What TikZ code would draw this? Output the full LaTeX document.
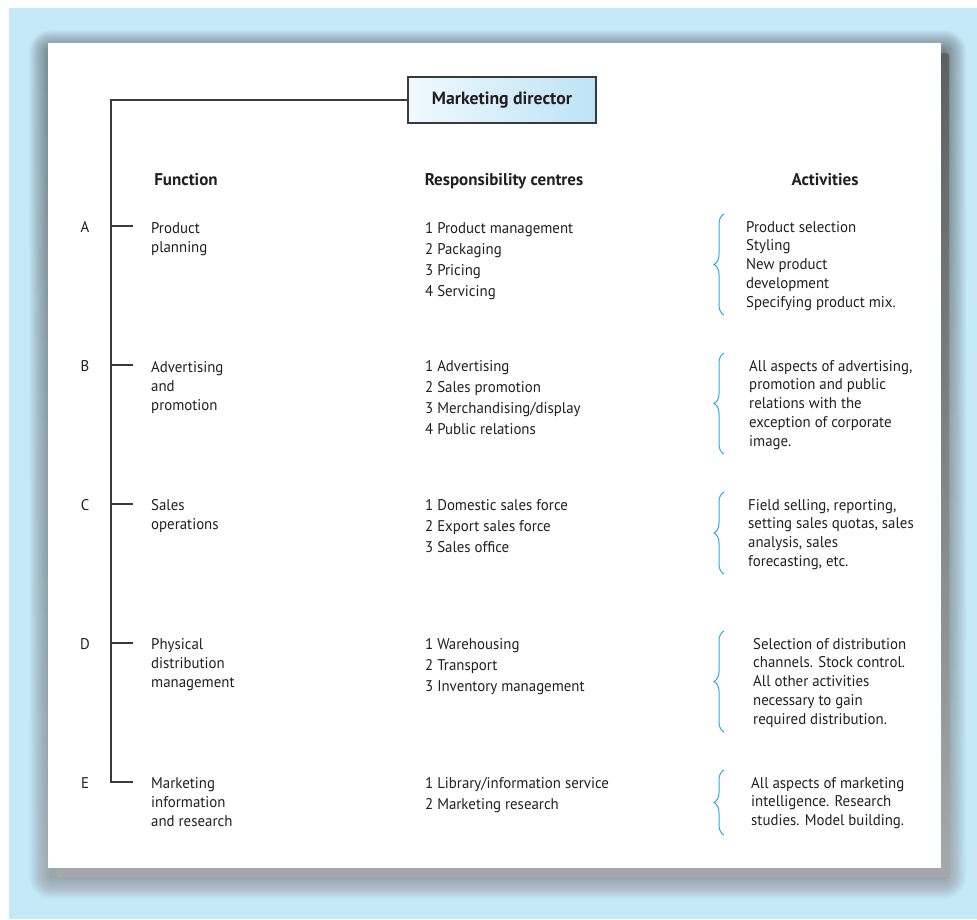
\documentclass[tikz,border=0pt]{standalone}
\usepackage{fontspec}
\setmainfont{PT Sans}
\newfontfamily\bodyfont{PT Sans}[FakeStretch=0.96]
\usetikzlibrary{decorations.pathreplacing,shadings}

\definecolor{bgblue}{HTML}{C6E9F8}
\definecolor{shade}{HTML}{3F5F70}
\definecolor{ink}{HTML}{231F20}
\definecolor{bracecol}{HTML}{29ABE2}
\definecolor{boxl}{HTML}{F0F9FE}
\definecolor{boxr}{HTML}{BDE3F6}
\definecolor{linecol}{HTML}{3A3A3A}

\tikzset{
  conn/.style={draw=linecol, line width=1.2pt},
  letter/.style={anchor=base, inner sep=0pt, text=ink, font=\bodyfont\fontsize{15.5}{19}\selectfont},
  heading/.style={anchor=base, inner sep=0pt, text=ink, font=\bfseries\fontsize{17}{20}\selectfont},
  % multi-line texts are placed by the baseline of their last line
  functxt/.style={anchor=base west, inner sep=0pt, align=left, text=ink, font=\bodyfont\fontsize{15.5}{19}\selectfont},
  resptxt/.style={anchor=base west, inner sep=0pt, align=left, text=ink, font=\bodyfont\fontsize{15.5}{21.3}\selectfont},
  acttxt/.style={anchor=base west, inner sep=0pt, align=left, text=ink, font=\bodyfont\fontsize{15.5}{18.8}\selectfont},
  actbrace/.style={draw=bracecol, line width=1pt, decorate, decoration={brace, amplitude=10pt}},
  topbox/.style={draw=linecol, line width=1.2pt, left color=boxl, right color=boxr,
    minimum width=188pt, minimum height=46pt, inner sep=0pt, text=ink,
    font=\bfseries\fontsize{17.7}{20}\selectfont}
}

\begin{document}
\begin{tikzpicture}[x=1pt, y=-1pt]
  % page, blue surround and soft shadow behind the panel
  \fill[white] (0,0) rectangle (977,919);
  \useasboundingbox (0,0) rectangle (977,919);
  \fill[bgblue] (9,8) rectangle (977,919);
  \foreach \i in {1,...,22} {
    \fill[shade, opacity=0.016, rounded corners=\i pt] (51-\i,52-\i) rectangle (944+\i,877+\i);
  }
  \fill[shade, opacity=0.5, rounded corners=3pt] (56,53) rectangle (949,878);
  \fill[white] (48,43) rectangle (941,868);

  % top box
  \node[topbox] (md) at (502,100) {Marketing director};

  % column headings
  \node[heading] (hfun) at (186,185) {Function};
  \node[heading] (hresp) at (504,185) {Responsibility centres};
  \node[heading] (hact) at (825,185) {Activities};

  % spine and branch ends
  \coordinate (tA) at (111,226); \coordinate (eA) at (133,226);
  \coordinate (tB) at (111,365); \coordinate (eB) at (133,365);
  \coordinate (tC) at (111,504); \coordinate (eC) at (133,504);
  \coordinate (tD) at (111,643); \coordinate (eD) at (133,643);
  \coordinate (tE) at (111,782); \coordinate (eE) at (133,782);

  \draw[conn] (md.west) -| (tE) -- (eE);
  \draw[conn] (tA) -- (eA);
  \draw[conn] (tB) -- (eB);
  \draw[conn] (tC) -- (eC);
  \draw[conn] (tD) -- (eD);

  % letters
  \node[letter] (lA) at (85,232) {A};
  \node[letter] (lB) at (85,371) {B};
  \node[letter] (lC) at (85,510) {C};
  \node[letter] (lD) at (85,649) {D};
  \node[letter] (lE) at (85,788) {E};

  % functions
  \node[functxt] (fA) at (151,252) {Product\\planning};
  \node[functxt] (fB) at (151,410) {Advertising\\and\\promotion};
  \node[functxt] (fC) at (151,529) {Sales\\operations};
  \node[functxt] (fD) at (151,687) {Physical\\distribution\\management};
  \node[functxt] (fE) at (151,826) {Marketing\\information\\and research};

  % responsibility centres
  \node[resptxt] (rA) at (425,296.9) {1 Product management\\2 Packaging\\3 Pricing\\4 Servicing};
  \node[resptxt] (rB) at (425,434.9) {1 Advertising\\2 Sales promotion\\3 Merchandising/display\\4 Public relations};
  \node[resptxt] (rC) at (425,552.6) {1 Domestic sales force\\2 Export sales force\\3 Sales office};
  \node[resptxt] (rD) at (425,691.6) {1 Warehousing\\2 Transport\\3 Inventory management};
  \node[resptxt] (rE) at (425,809.3) {1 Library/information service\\2 Marketing research};

  % activity braces
  \coordinate (bA1) at (724,315); \coordinate (bA2) at (724,214);
  \coordinate (bB1) at (724,454); \coordinate (bB2) at (724,353);
  \coordinate (bC1) at (724,574); \coordinate (bC2) at (724,492);
  \coordinate (bD1) at (724,732); \coordinate (bD2) at (724,631);
  \coordinate (bE1) at (724,835); \coordinate (bE2) at (724,770);
  \draw[actbrace] (bA1) -- (bA2);
  \draw[actbrace] (bB1) -- (bB2);
  \draw[actbrace] (bC1) -- (bC2);
  \draw[actbrace] (bD1) -- (bD2);
  \draw[actbrace] (bE1) -- (bE2);

  % activities
  \node[acttxt] (aA) at (746,307.2) {Product selection\\Styling\\New product\\development\\Specifying product mix.};
  \node[acttxt] (aB) at (749,446.2) {All aspects of advertising,\\promotion and public\\relations with the\\exception of corporate\\image.};
  \node[acttxt] (aC) at (748,566.4) {Field selling, reporting,\\setting sales quotas, sales\\analysis, sales\\forecasting, etc.};
  \node[acttxt] (aD) at (753,724.2) {Selection of distribution\\channels. Stock control.\\All other activities\\necessary to gain\\required distribution.};
  \node[acttxt] (aE) at (751,825.6) {All aspects of marketing\\intelligence. Research\\studies. Model building.};
\end{tikzpicture}
\end{document}
